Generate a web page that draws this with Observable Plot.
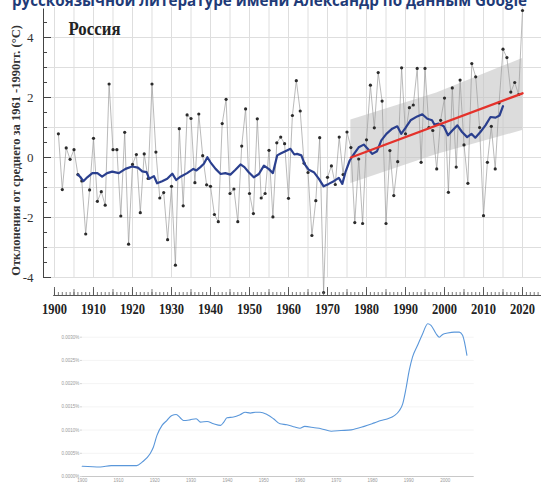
<!DOCTYPE html>
<html><head><meta charset="utf-8">
<script src="https://cdn.jsdelivr.net/npm/d3@7"></script>
<script src="https://cdn.jsdelivr.net/npm/@observablehq/plot@0.6"></script>
<style>
body{margin:0;background:#fff;}
#wrap{position:relative;width:541px;height:492px;overflow:hidden;background:#fff;}
#topChart{position:absolute;left:0;top:0;}
#bottomChart{position:absolute;left:0;top:320px;}
#cap{position:absolute;left:0;top:0;}
</style></head><body>
<div id="wrap"><div id="topChart"></div><div id="bottomChart"></div>
<svg id="cap" width="541" height="12"><text x="12" y="6" textLength="515" lengthAdjust="spacingAndGlyphs" font-family="'Open Sans', 'Liberation Sans', sans-serif" font-weight="bold" font-size="16" fill="#1f3b78">русскоязычной литературе имени Александр по данным  Google</text></svg>
</div>
<script>
// ---- Top chart: annual temperature anomalies, Russia ----
const years = d3.range(1901, 2021);
const anomalies = [
 0.79,-1.07,0.32,-0.06,0.26,-0.57,-0.78,-2.55,-1.08,0.64,
 -1.46,-1.14,-1.59,2.45,0.26,0.26,-1.95,0.84,-2.89,-0.23,
 0.1,-1.84,0.12,-0.7,2.45,0.18,-1.35,-1.17,-2.74,-0.96,
 -3.59,0.96,-1.61,1.42,1.3,-0.84,1.45,0.06,-0.91,-0.96,
 -1.9,-2.14,1.13,1.94,-1.2,-1.05,-2.14,0.38,1.62,-1.2,
 -1.87,1.29,-1.35,-1.2,0.24,-1.98,0.49,0.68,0.46,-1.36,
 1.4,2.56,1.55,-0.19,-0.5,-2.6,-1.44,0.66,-4.5,-0.66,
 -0.28,-0.9,0.68,-0.57,0.85,0.33,-2.17,-0.05,-2.2,0.59,
 2.41,0.99,2.83,1.88,-2.2,0.23,-1.27,-0.14,2.99,0.79,
 1.66,1.75,2.97,-0.16,2.97,1.0,0.9,-0.38,1.24,1.98,
 -1.16,2.32,-0.32,2.58,0.42,-0.86,3.13,2.69,1.0,-1.94,
 -0.16,1.04,-0.38,1.82,3.61,3.33,2.18,2.5,2.1,4.9
];
const smoothYears = [1906,1906.7,1907.4,1908.4,1909.7,1911,1912.2,1913.5,1914.8,1916.5,1918.2,1919.9,1921.4,1922.5,1923.6,1924.3,1925.5,1926.3,1927.6,1928.9,1930.2,1931.2,1932.3,1934,1935.6,1936.4,1937.4,1938.3,1939.2,1940,1941.3,1942.6,1943.8,1945.1,1946.4,1947.7,1948.7,1949.8,1951.1,1952.4,1953.7,1954.9,1956,1957.1,1958.1,1959.2,1960.5,1961.5,1962.2,1963.3,1964.1,1965.2,1966.5,1967.8,1969,1970.3,1971.6,1972.9,1973.8,1974.6,1975.7,1976.8,1978,1979.3,1980.3,1981.5,1982.7,1983.8,1985.1,1986.6,1987.9,1988.9,1990,1991.3,1993,1994.3,1995.6,1996.8,1997.4,1998.5,1999.8,2000.9,2002,2003.3,2004.5,2005.8,2006.9,2007.9,2009.2,2010.5,2011.8,2013.1,2014.1,2015];
const smoothValues = [-0.57,-0.66,-0.79,-0.66,-0.52,-0.52,-0.64,-0.52,-0.47,-0.52,-0.38,-0.3,-0.34,-0.46,-0.49,-0.71,-0.62,-0.86,-0.79,-0.71,-0.54,-0.75,-0.64,-0.52,-0.38,-0.43,-0.32,-0.21,0.01,-0.16,-0.38,-0.55,-0.52,-0.57,-0.41,-0.23,-0.32,-0.49,-0.66,-0.55,-0.27,-0.38,-0.52,0.07,0.14,0.21,0.29,0.1,0.12,0.07,-0.21,-0.41,-0.49,-0.71,-0.96,-0.88,-0.79,-0.68,-0.88,-0.49,-0.1,0.12,0.34,0.43,0.29,0.12,0.21,0.57,0.79,0.96,1.04,0.79,0.99,1.24,1.37,1.44,1.29,1.24,1.1,1.13,1.04,0.74,0.9,1.07,0.85,0.68,0.79,0.66,0.85,1.07,1.35,1.33,1.4,1.71];
const trendYears = [1976, 2020];
const trendValues = [0.0, 2.14];
const bandYears = [1976, 1998, 2020];
const bandLow = [-0.87, 0.1, 0.9];
const bandHigh = [1.25, 2.15, 3.3];
const gridYears = d3.range(1900, 2021, 5);
const gridValues = d3.range(-4, 5, 1);
const yLabelValues = [-4, -2, 0, 2, 4];
const yMinorValues = d3.range(-4, 5, 0.5).filter(v => v % 2 !== 0);
const xLabelYears = d3.range(1900, 2021, 10);
const xTickYears = d3.range(1900, 2025, 1);

// ---- Bottom chart: Google Ngram frequency ----
const ngYears = [1900,1905,1908,1915,1916.5,1918.7,1919.6,1920.6,1922,1923.3,1924.7,1925.9,1927,1927.9,1929.7,1931.4,1932.6,1934.4,1936.2,1938.1,1939,1939.9,1941.7,1943.6,1944.9,1946.3,1947.7,1949,1950.9,1952.7,1954.5,1956.4,1958.6,1960,1961.3,1964,1965.8,1968.6,1971.3,1974.1,1977.7,1980.5,1982.3,1984.2,1986,1987.4,1988.3,1989.2,1990.1,1991,1992.4,1993.8,1995.2,1996.1,1997.5,1998.4,1999.3,2000.7,2002.5,2003.9,2004.8,2006];
const ngUnits = [0.44,0.41,0.47,0.47,0.62,0.98,1.26,1.77,2.2,2.41,2.63,2.67,2.53,2.41,2.44,2.49,2.34,2.37,2.27,2.2,2.34,2.53,2.56,2.67,2.77,2.73,2.77,2.77,2.67,2.49,2.27,2.23,2.13,2.08,2.16,2.1,2.06,1.95,1.98,2.01,2.16,2.31,2.41,2.49,2.62,2.84,3.13,3.78,4.57,5.14,5.65,6.15,6.58,6.51,6.15,6.0,6.12,6.18,6.22,6.22,6.08,5.22];
const ngYTicks = [0, 0.0005, 0.001, 0.0015, 0.002, 0.0025, 0.003];
const ngXTicks = d3.range(1900, 2001, 10);

(function () {
  const serif = "'Liberation Serif','Times New Roman',serif";
  const X0 = 1897.18, X1 = 2024.87, YB = -4.6;
  const pxX = 3.9, pxY = 30;

  const chartA = Plot.plot({
    width: 541, height: 320,
    marginLeft: 43, marginRight: 0, marginTop: 7, marginBottom: 25,
    x: {domain: [X0, X1], axis: null},
    y: {domain: [YB, 5.0], axis: null},
    marks: [
      Plot.ruleY(gridValues, {x1: X0, x2: X1, stroke: "#dedede", strokeWidth: 1}),
      Plot.ruleX(gridYears, {y1: -4, y2: 5.0, stroke: "#dedede", strokeWidth: 1}),
      Plot.areaY(bandYears, {x: d => d, y1: (d, i) => bandLow[i], y2: (d, i) => bandHigh[i], fill: "#c4c4c4", fillOpacity: 0.6}),
      Plot.line(years, {x: d => d, y: (d, i) => anomalies[i], stroke: "#9c9c9c", strokeWidth: 0.7}),
      Plot.dot(years, {x: d => d, y: (d, i) => anomalies[i], r: 1.6, fill: "#2b2b2b", stroke: "none"}),
      Plot.line(smoothYears, {x: d => d, y: (d, i) => smoothValues[i], stroke: "#2a3f8e", strokeWidth: 2.2}),
      Plot.line(trendYears, {x: d => d, y: (d, i) => trendValues[i], stroke: "#e4322b", strokeWidth: 2.4}),
      Plot.ruleX([X0], {y1: -4, y2: 4.95, stroke: "#444", strokeWidth: 1}),
      Plot.ruleY(yLabelValues, {x1: X0, x2: X0 + 8 / pxX, stroke: "#444", strokeWidth: 1}),
      Plot.ruleY(yMinorValues, {x1: X0, x2: X0 + 4 / pxX, stroke: "#444", strokeWidth: 1}),
      Plot.text(yLabelValues, {x: X0, y: d => d, text: d => String(d), dx: -10, textAnchor: "end", fontSize: 13, fontFamily: serif, fill: "#333"}),
      Plot.text(["Отклонения от среднего за 1961 -1990гг. (°C)"], {frameAnchor: "left", textAnchor: "middle", rotate: -90, dx: -28, dy: -1, fontSize: 12.5, fontWeight: "bold", fontFamily: serif, fill: "#333"}),
      Plot.text(["Россия"], {frameAnchor: "top-left", dx: 25, dy: 15, textAnchor: "start", fontSize: 18, fontWeight: "bold", fontFamily: serif, fill: "#222"}),
      Plot.ruleY([YB], {x1: 1899.8, x2: X1, stroke: "#555", strokeWidth: 1}),
      Plot.ruleX(xTickYears, {y1: YB, y2: YB + 3 / pxY, stroke: "#555", strokeWidth: 0.8}),
      Plot.ruleX(xTickYears.filter(d => d % 5 === 0), {y1: YB, y2: YB + 6 / pxY, stroke: "#555", strokeWidth: 0.8}),
      Plot.ruleX(xLabelYears, {y1: YB, y2: YB + 8 / pxY, stroke: "#555", strokeWidth: 0.9}),
      Plot.text(xLabelYears, {x: d => d, y: YB, text: d => String(d), dy: 13.5, fontSize: 15, fontWeight: "bold", fontFamily: serif, fill: "#222"})
    ]
  });
  d3.select(chartA).selectAll("text").each(function () {
    const t = this.textContent;
    if (/^\d{4}$/.test(t)) { this.setAttribute("textLength", 25); this.setAttribute("lengthAdjust", "spacingAndGlyphs"); }
    if (t === "Россия") { this.setAttribute("textLength", 52); this.setAttribute("lengthAdjust", "spacingAndGlyphs"); }
  });
  document.getElementById("topChart").appendChild(chartA);

  const ngValues = ngUnits.map(u => u * 0.0005);
  const chartB = Plot.plot({
    width: 541, height: 172,
    marginLeft: 81.7, marginRight: 67.3, marginTop: 16.7, marginBottom: 16,
    x: {domain: [1900, 2008], axis: null},
    y: {domain: [0, 0.003], axis: null},
    marks: [
      Plot.ruleY(ngYTicks.slice(1), {x1: 1900, x2: 2008, stroke: "#f4f4f4"}),
      Plot.ruleY([0], {x1: 1900, x2: 2008, stroke: "#c8c8c8"}),
      Plot.ruleY(ngYTicks, {x1: 1899.6, x2: 1900, stroke: "#c8c8c8"}),
      Plot.text(ngYTicks, {x: 1900, y: d => d, text: d => d.toFixed(4) + "%", dx: -3, textAnchor: "end", fontSize: 4.5, fill: "#9a9a9a", fontFamily: "'Liberation Sans',sans-serif"}),
      Plot.text(ngXTicks, {x: d => d, y: 0, text: d => String(d), dy: 4.5, fontSize: 4.5, fill: "#9a9a9a", fontFamily: "'Liberation Sans',sans-serif"}),
      Plot.line(ngYears, {x: d => d, y: (d, i) => ngValues[i], stroke: "#5a97da", strokeWidth: 1.1, curve: "monotone-x"})
    ]
  });
  document.getElementById("bottomChart").appendChild(chartB);
})();
</script>
</body></html>
